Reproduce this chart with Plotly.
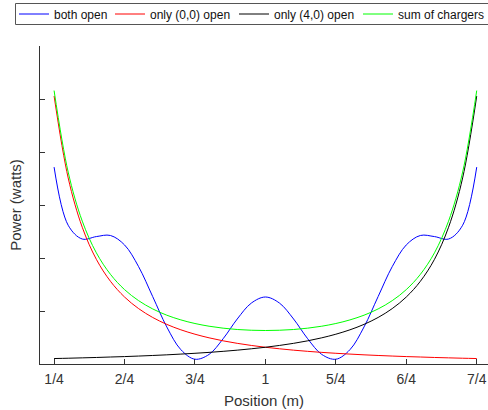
import plotly.graph_objects as go

# Charger positions along the track (m) and measured received power
position = [0.25, 0.30, 0.35, 0.40, 0.45, 0.50, 0.55, 0.60, 0.65, 0.70, 0.75,
            0.80, 0.85, 0.90, 0.95, 1.00, 1.05, 1.10, 1.15, 1.20, 1.25, 1.30,
            1.35, 1.40, 1.45, 1.50, 1.55, 1.60, 1.65, 1.70, 1.75]

both_open = [3.715, 2.618, 2.358, 2.404, 2.425, 2.247, 1.836, 1.272, 0.699, 0.270, 0.090,
             0.181, 0.477, 0.849, 1.149, 1.264, 1.149, 0.849, 0.477, 0.181, 0.090, 0.270,
             0.699, 1.272, 1.836, 2.247, 2.425, 2.404, 2.358, 2.618, 3.715]

only_left = [5.056, 3.511, 2.580, 1.975, 1.561, 1.264, 1.045, 0.878, 0.748, 0.645, 0.562,
             0.494, 0.437, 0.390, 0.350, 0.316, 0.287, 0.261, 0.239, 0.219, 0.202, 0.187,
             0.173, 0.161, 0.150, 0.140, 0.132, 0.123, 0.116, 0.109, 0.103]

only_right = [0.103, 0.109, 0.116, 0.123, 0.132, 0.140, 0.150, 0.161, 0.173, 0.187, 0.202,
              0.219, 0.239, 0.261, 0.287, 0.316, 0.350, 0.390, 0.437, 0.494, 0.562, 0.645,
              0.748, 0.878, 1.045, 1.264, 1.561, 1.975, 2.580, 3.511, 5.056]

sum_chargers = [5.159, 3.621, 2.696, 2.098, 1.692, 1.404, 1.195, 1.039, 0.921, 0.832, 0.764,
                0.713, 0.676, 0.651, 0.637, 0.632, 0.637, 0.651, 0.676, 0.713, 0.764, 0.832,
                0.921, 1.039, 1.195, 1.404, 1.692, 2.098, 2.696, 3.621, 5.159]

tick_vals = [0.25, 0.5, 0.75, 1.0, 1.25, 1.5, 1.75]
tick_text = ["1/4", "2/4", "3/4", "1", "5/4", "6/4", "7/4"]
power_ticks = [0, 1, 2, 3, 4, 5, 6]

series = [
    ("both open", both_open, "#0000ff"),
    ("only (0,0) open", only_left, "#ff0000"),
    ("only (4,0) open", only_right, "#000000"),
    ("sum of chargers", sum_chargers, "#00ff00"),
]

FONT = "Liberation Sans, Arial, Helvetica, sans-serif"
W, H = 488, 410
ML, MR, MT, MB = 40, 0, 46, 46
plot_w, plot_h = W - ML - MR, H - MT - MB


def px_to_paper_x(px):
    return (px - ML) / plot_w


def px_to_paper_y(py):
    return (H - MB - py) / plot_h


# one legend entry per trace, laid out in a single strip along the top
legend_left_px = [14, 110, 234, 358]
legend_mid_y = 14
legend_box = dict(x0=15.5, x1=520, y0=3.5, y1=24.5)

fig = go.Figure()
legend_names = ["legend", "legend2", "legend3", "legend4"]
for (name, values, color), lg in zip(series, legend_names):
    fig.add_trace(go.Scatter(
        x=position, y=values, name=name, mode="lines", legend=lg,
        line=dict(color=color, width=1, shape="spline", smoothing=1.0),
    ))

legend_common = dict(
    orientation="h", xanchor="left", yanchor="middle",
    borderwidth=0, bgcolor="rgba(0,0,0,0)",
    font=dict(family=FONT, size=12, color="#111111"),
)
legend_layout = {}
for lg, left in zip(legend_names, legend_left_px):
    legend_layout[lg] = dict(legend_common, x=px_to_paper_x(left),
                             y=px_to_paper_y(legend_mid_y))

axis_color = "#333333"
fig.update_layout(
    width=W, height=H,
    margin=dict(l=ML, r=MR, t=MT, b=MB, autoexpand=False),
    paper_bgcolor="white", plot_bgcolor="white",
    font=dict(family=FONT, color="#222222"),
    showlegend=True,
    **legend_layout,
    shapes=[dict(
        type="rect", xref="paper", yref="paper",
        x0=px_to_paper_x(legend_box["x0"]), x1=px_to_paper_x(legend_box["x1"]),
        y0=px_to_paper_y(legend_box["y1"]), y1=px_to_paper_y(legend_box["y0"]),
        line=dict(color="#555555", width=1), fillcolor="rgba(0,0,0,0)",
    )],
    xaxis=dict(
        range=[0.2, 1.79], tickvals=tick_vals, ticktext=tick_text,
        ticks="inside", ticklen=5, tickcolor=axis_color, tickwidth=1,
        showline=True, linecolor=axis_color, linewidth=1,
        showgrid=False, zeroline=False, ticklabelstandoff=2,
        tickfont=dict(size=14, color="#333333"),
        title=dict(text="Position (m)", font=dict(size=15, color="#333333"), standoff=9),
    ),
    yaxis=dict(
        range=[0, 6], tickvals=power_ticks, showticklabels=False,
        ticks="inside", ticklen=5, tickcolor=axis_color, tickwidth=1,
        showline=True, linecolor=axis_color, linewidth=1,
        showgrid=False, zeroline=False,
        title=dict(text="Power (watts)", font=dict(size=15, color="#333333"), standoff=13),
    ),
)

fig.write_html("out.html")
